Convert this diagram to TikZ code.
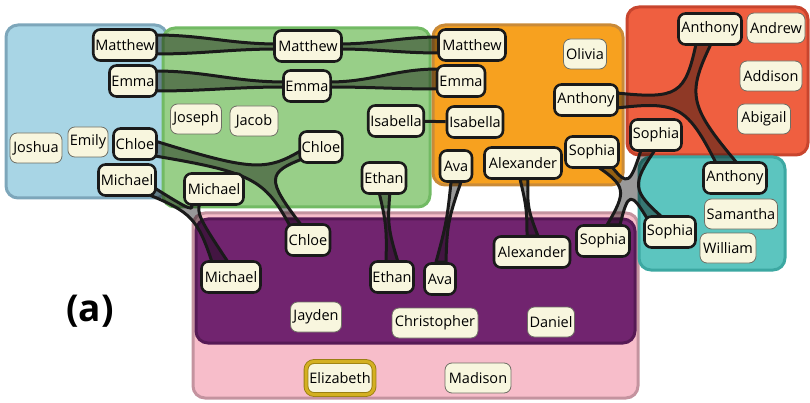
\documentclass[tikz,border=0pt]{standalone}
\usepackage{fontspec}
\setmainfont{Open Sans}
\usetikzlibrary{calc}
\pgfdeclarelayer{bg}
\pgfdeclarelayer{mid}
\pgfsetlayers{bg,mid,main}
\definecolor{cream}{HTML}{F8F6DE}
\definecolor{linkc}{HTML}{1A1A1A}
\definecolor{thinb}{HTML}{6E6E64}
\definecolor{blueF}{HTML}{A8D5E5}\definecolor{blueD}{HTML}{7DA6BA}
\definecolor{greenF}{HTML}{98CF88}\definecolor{greenD}{HTML}{72BA64}
\definecolor{orangeF}{HTML}{F7A11F}\definecolor{orangeD}{HTML}{C98A38}
\definecolor{redF}{HTML}{EF5F40}\definecolor{redD}{HTML}{C8452E}
\definecolor{tealF}{HTML}{5CC5BF}\definecolor{tealD}{HTML}{3CA8A2}
\definecolor{purpF}{HTML}{71246F}\definecolor{purpD}{HTML}{561A55}
\definecolor{pinkF}{HTML}{F7BDCA}\definecolor{pinkD}{HTML}{C4939F}
\definecolor{goldL}{HTML}{D4B021}\definecolor{goldD}{HTML}{9A7F12}
\newcommand\kk{0.9}
\newcommand\mkpt[3]{\coordinate (#1) at ([shift={(#3)}]#2.center);}
\tikzset{
  region/.style={rounded corners=12pt, line width=3pt},
  tn/.style={draw=linkc, line width=2.6pt, fill=cream, rounded corners=7pt,
    minimum height=31pt, inner xsep=2pt, inner ysep=0pt},
  fn/.style={draw=thinb, line width=0.8pt, fill=cream, rounded corners=7pt,
    minimum height=30pt, inner xsep=2pt, inner ysep=0pt},
  goldn/.style={draw=goldD, double=goldL, double distance=3pt, line width=0.9pt,
    fill=cream, rounded corners=8pt, minimum height=33pt, inner xsep=2pt, inner ysep=0pt},
  hull/.style={fill=black, fill opacity=0.4, draw=linkc, line width=3pt, line join=round},
  link/.style={draw=linkc, line width=3pt},
  junc/.style={to path={.. controls ($(\tikztostart)!\kk!(#1)$) and ($(\tikztotarget)!\kk!(#1)$) .. (\tikztotarget)}},
}
\begin{document}
\begin{tikzpicture}[x=1pt, y=-1pt, every node/.style={font=\fontsize{14.5}{16}\selectfont}]
\useasboundingbox (0,0) rectangle (810,403);
% regions
\begin{pgfonlayer}{bg}
\draw[region, fill=pinkF, draw=pinkD] (193,213) rectangle (638,398);
\draw[region, fill=purpF, draw=purpD] (196,219) rectangle (635,343);
\draw[region, fill=blueF, draw=blueD] (6,25) rectangle (167,198);
\draw[region, fill=greenF, draw=greenD] (163,28) rectangle (430,207);
\draw[region, fill=orangeF, draw=orangeD] (433,25) rectangle (623,185);
\draw[region, fill=redF, draw=redD] (627,7) rectangle (808,155);
\draw[region, fill=tealF, draw=tealD] (639,157) rectangle (785,270);
\end{pgfonlayer}
% blue
\node[tn, minimum width=63] (bMatthew) at (125,45) {Matthew};
\node[tn, minimum width=44] (bEmma) at (133,81) {Emma};
\node[fn, minimum width=52] (Joshua) at (36,148) {Joshua};
\node[fn, minimum width=38] (Emily) at (88,142) {Emily};
\node[tn, minimum width=43] (bChloe) at (135,144) {Chloe};
\node[tn, minimum width=57] (bMichael) at (127,180) {Michael};
% green
\node[tn, minimum width=67] (gMatthew) at (308,46) {Matthew};
\node[tn, minimum width=47] (gEmma) at (307,86) {Emma};
\node[fn, minimum width=51] (Joseph) at (196,119) {Joseph};
\node[fn, minimum width=48] (Jacob) at (254,121) {Jacob};
\node[tn, minimum width=55] (gIsabella) at (396,121) {Isabella};
\node[tn, minimum width=42] (gChloe) at (321,147) {Chloe};
\node[tn, minimum width=59] (gMichael) at (214,189) {Michael};
\node[tn, minimum width=44] (gEthan) at (384,178) {Ethan};
% orange
\node[tn, minimum width=67] (oMatthew) at (472,45) {Matthew};
\node[tn, minimum width=48] (oEmma) at (461,81) {Emma};
\node[fn, minimum width=43] (Olivia) at (585,54) {Olivia};
\node[tn, minimum width=63] (oAnthony) at (586,100) {Anthony};
\node[tn, minimum width=56] (oIsabella) at (475,122) {Isabella};
\node[tn, minimum width=32] (oAva) at (456,166) {Ava};
\node[tn, minimum width=77] (oAlexander) at (523,163) {Alexander};
\node[tn, minimum width=53] (oSophia) at (592,152) {Sophia};
% red
\node[tn, minimum width=63] (rAnthony) at (710,29) {Anthony};
\node[fn, minimum width=58] (Andrew) at (776,28) {Andrew};
\node[fn, minimum width=62] (Addison) at (771,76) {Addison};
\node[fn, minimum width=53] (Abigail) at (764,119) {Abigail};
\node[tn, minimum width=51] (rSophia) at (656,135) {Sophia};
% teal
\node[tn, minimum width=63] (tAnthony) at (735,178) {Anthony};
\node[fn, minimum width=73] (Samantha) at (741,214) {Samantha};
\node[fn, minimum width=56] (William) at (728,248) {William};
\node[tn, minimum width=51] (tSophia) at (670,232) {Sophia};
% purple
\node[tn, minimum width=44] (pChloe) at (308,240) {Chloe};
\node[tn, minimum width=59] (pMichael) at (231,277) {Michael};
\node[tn, minimum width=42] (pEthan) at (392,277) {Ethan};
\node[tn, minimum width=31] (pAva) at (440,279) {Ava};
\node[fn, minimum width=51] (Jayden) at (316,317) {Jayden};
\node[fn, minimum width=86] (Christopher) at (435,323) {Christopher};
\node[tn, minimum width=76] (pAlexander) at (532,252) {Alexander};
\node[tn, minimum width=53] (pSophia) at (603,241) {Sophia};
\node[fn, minimum width=47] (Daniel) at (551,322) {Daniel};
% pink
\node[goldn, minimum width=68] (Elizabeth) at (340,378) {Elizabeth};
\node[fn, minimum width=66] (Madison) at (478,378) {Madison};
% label
\node[font=\fontsize{37}{40}\selectfont\bfseries] (lab) at (90,311) {(a)};

% link end points
\mkpt{mBt}{bMatthew}{30,-10}\mkpt{mBb}{bMatthew}{30,9}
\mkpt{mGlt}{gMatthew}{-30,-2}\mkpt{mGlb}{gMatthew}{-30,3}
\mkpt{mGrt}{gMatthew}{30,-2}\mkpt{mGrb}{gMatthew}{30,3}
\mkpt{mOt}{oMatthew}{-32,-8}\mkpt{mOb}{oMatthew}{-32,8}
\mkpt{eBt}{bEmma}{22,-10}\mkpt{eBb}{bEmma}{22,10}
\mkpt{eGlt}{gEmma}{-22,-4}\mkpt{eGlb}{gEmma}{-22,1}
\mkpt{eGrt}{gEmma}{22,-4}\mkpt{eGrb}{gEmma}{22,1}
\mkpt{eOt}{oEmma}{-23,-12}\mkpt{eOb}{oEmma}{-23,8}
\mkpt{cBu}{bChloe}{20,-3}\mkpt{cBl}{bChloe}{20,12}
\mkpt{cGa}{gChloe}{-19,3}\mkpt{cGb}{gChloe}{-16,11}
\mkpt{cPa}{pChloe}{-6,-14}\mkpt{cPb}{pChloe}{-18,-14}
\coordinate (JC) at (262,174);
\mkpt{hBa}{bMichael}{26,7}\mkpt{hBb}{bMichael}{20,14}
\mkpt{hGa}{gMichael}{-24,12}\mkpt{hGb}{gMichael}{-14,14}
\mkpt{hPa}{pMichael}{-3,-15}\mkpt{hPb}{pMichael}{-19,-15}
\coordinate (JH) at (196,214);
\mkpt{tGl}{gEthan}{-5,14}\mkpt{tGr}{gEthan}{6,14}
\mkpt{tPl}{pEthan}{-6,-15}\mkpt{tPr}{pEthan}{6,-15}
\coordinate (JT) at (387,226);
\mkpt{vOl}{oAva}{-5,16}\mkpt{vOr}{oAva}{5,16}
\mkpt{vPl}{pAva}{-4,-17}\mkpt{vPr}{pAva}{6,-17}
\coordinate (JV) at (447,222);
\mkpt{xOl}{oAlexander}{-3,16}\mkpt{xOr}{oAlexander}{5,16}
\mkpt{xPl}{pAlexander}{-5,-16}\mkpt{xPr}{pAlexander}{6,-16}
\coordinate (JX) at (527,208);
\mkpt{aOt}{oAnthony}{31,-7}\mkpt{aOb}{oAnthony}{31,8}
\mkpt{aRa}{rAnthony}{-14,15}\mkpt{aRb}{rAnthony}{1,15}
\mkpt{aTa}{tAnthony}{2,-15}\mkpt{aTb}{tAnthony}{-19,-15}
\coordinate (JA) at (684,100);
\mkpt{sOa}{oSophia}{6,15}\mkpt{sOb}{oSophia}{20,15}
\mkpt{sRa}{rSophia}{-15,15}\mkpt{sRb}{rSophia}{-1,15}
\mkpt{sTa}{tSophia}{-8,-15}\mkpt{sTb}{tSophia}{-22,-12}
\mkpt{sPa}{pSophia}{17,-16}\mkpt{sPb}{pSophia}{4,-16}
\coordinate (JS) at (629,188);

\begin{pgfonlayer}{mid}
\draw[hull] (mBt) to[out=0,in=180] (mGlt) -- (mGlb) to[out=180,in=0] (mBb) -- cycle;
\draw[hull] (mGrt) to[out=0,in=180] (mOt) -- (mOb) to[out=180,in=0] (mGrb) -- cycle;
\draw[hull] (eBt) to[out=0,in=180] (eGlt) -- (eGlb) to[out=180,in=0] (eBb) -- cycle;
\draw[hull] (eGrt) to[out=0,in=180] (eOt) -- (eOb) to[out=180,in=0] (eGrb) -- cycle;
\draw[link] (gIsabella) -- (oIsabella);
\draw[hull] (cBu) to[junc=JC] (cGa) -- (cGb) to[junc=JC] (cPa) -- (cPb) to[junc=JC] (cBl) -- cycle;
\draw[hull] (hBa) to[junc=JH] (hGa) -- (hGb) to[junc=JH] (hPa) -- (hPb) to[junc=JH] (hBb) -- cycle;
\draw[hull] (tGl) to[junc=JT] (tPl) -- (tPr) to[junc=JT] (tGr) -- cycle;
\draw[hull] (vOl) to[junc=JV] (vPl) -- (vPr) to[junc=JV] (vOr) -- cycle;
\draw[hull] (xOl) to[junc=JX] (xPl) -- (xPr) to[junc=JX] (xOr) -- cycle;
\draw[hull] (aOt) to[junc=JA] (aRa) -- (aRb) to[junc=JA] (aTa) -- (aTb) to[junc=JA] (aOb) -- cycle;
\draw[hull] (sOb) to[junc=JS] (sRa) -- (sRb) to[junc=JS] (sTa) -- (sTb) to[junc=JS] (sPa) -- (sPb) to[junc=JS] (sOa) -- cycle;
\end{pgfonlayer}
\end{tikzpicture}
\end{document}
